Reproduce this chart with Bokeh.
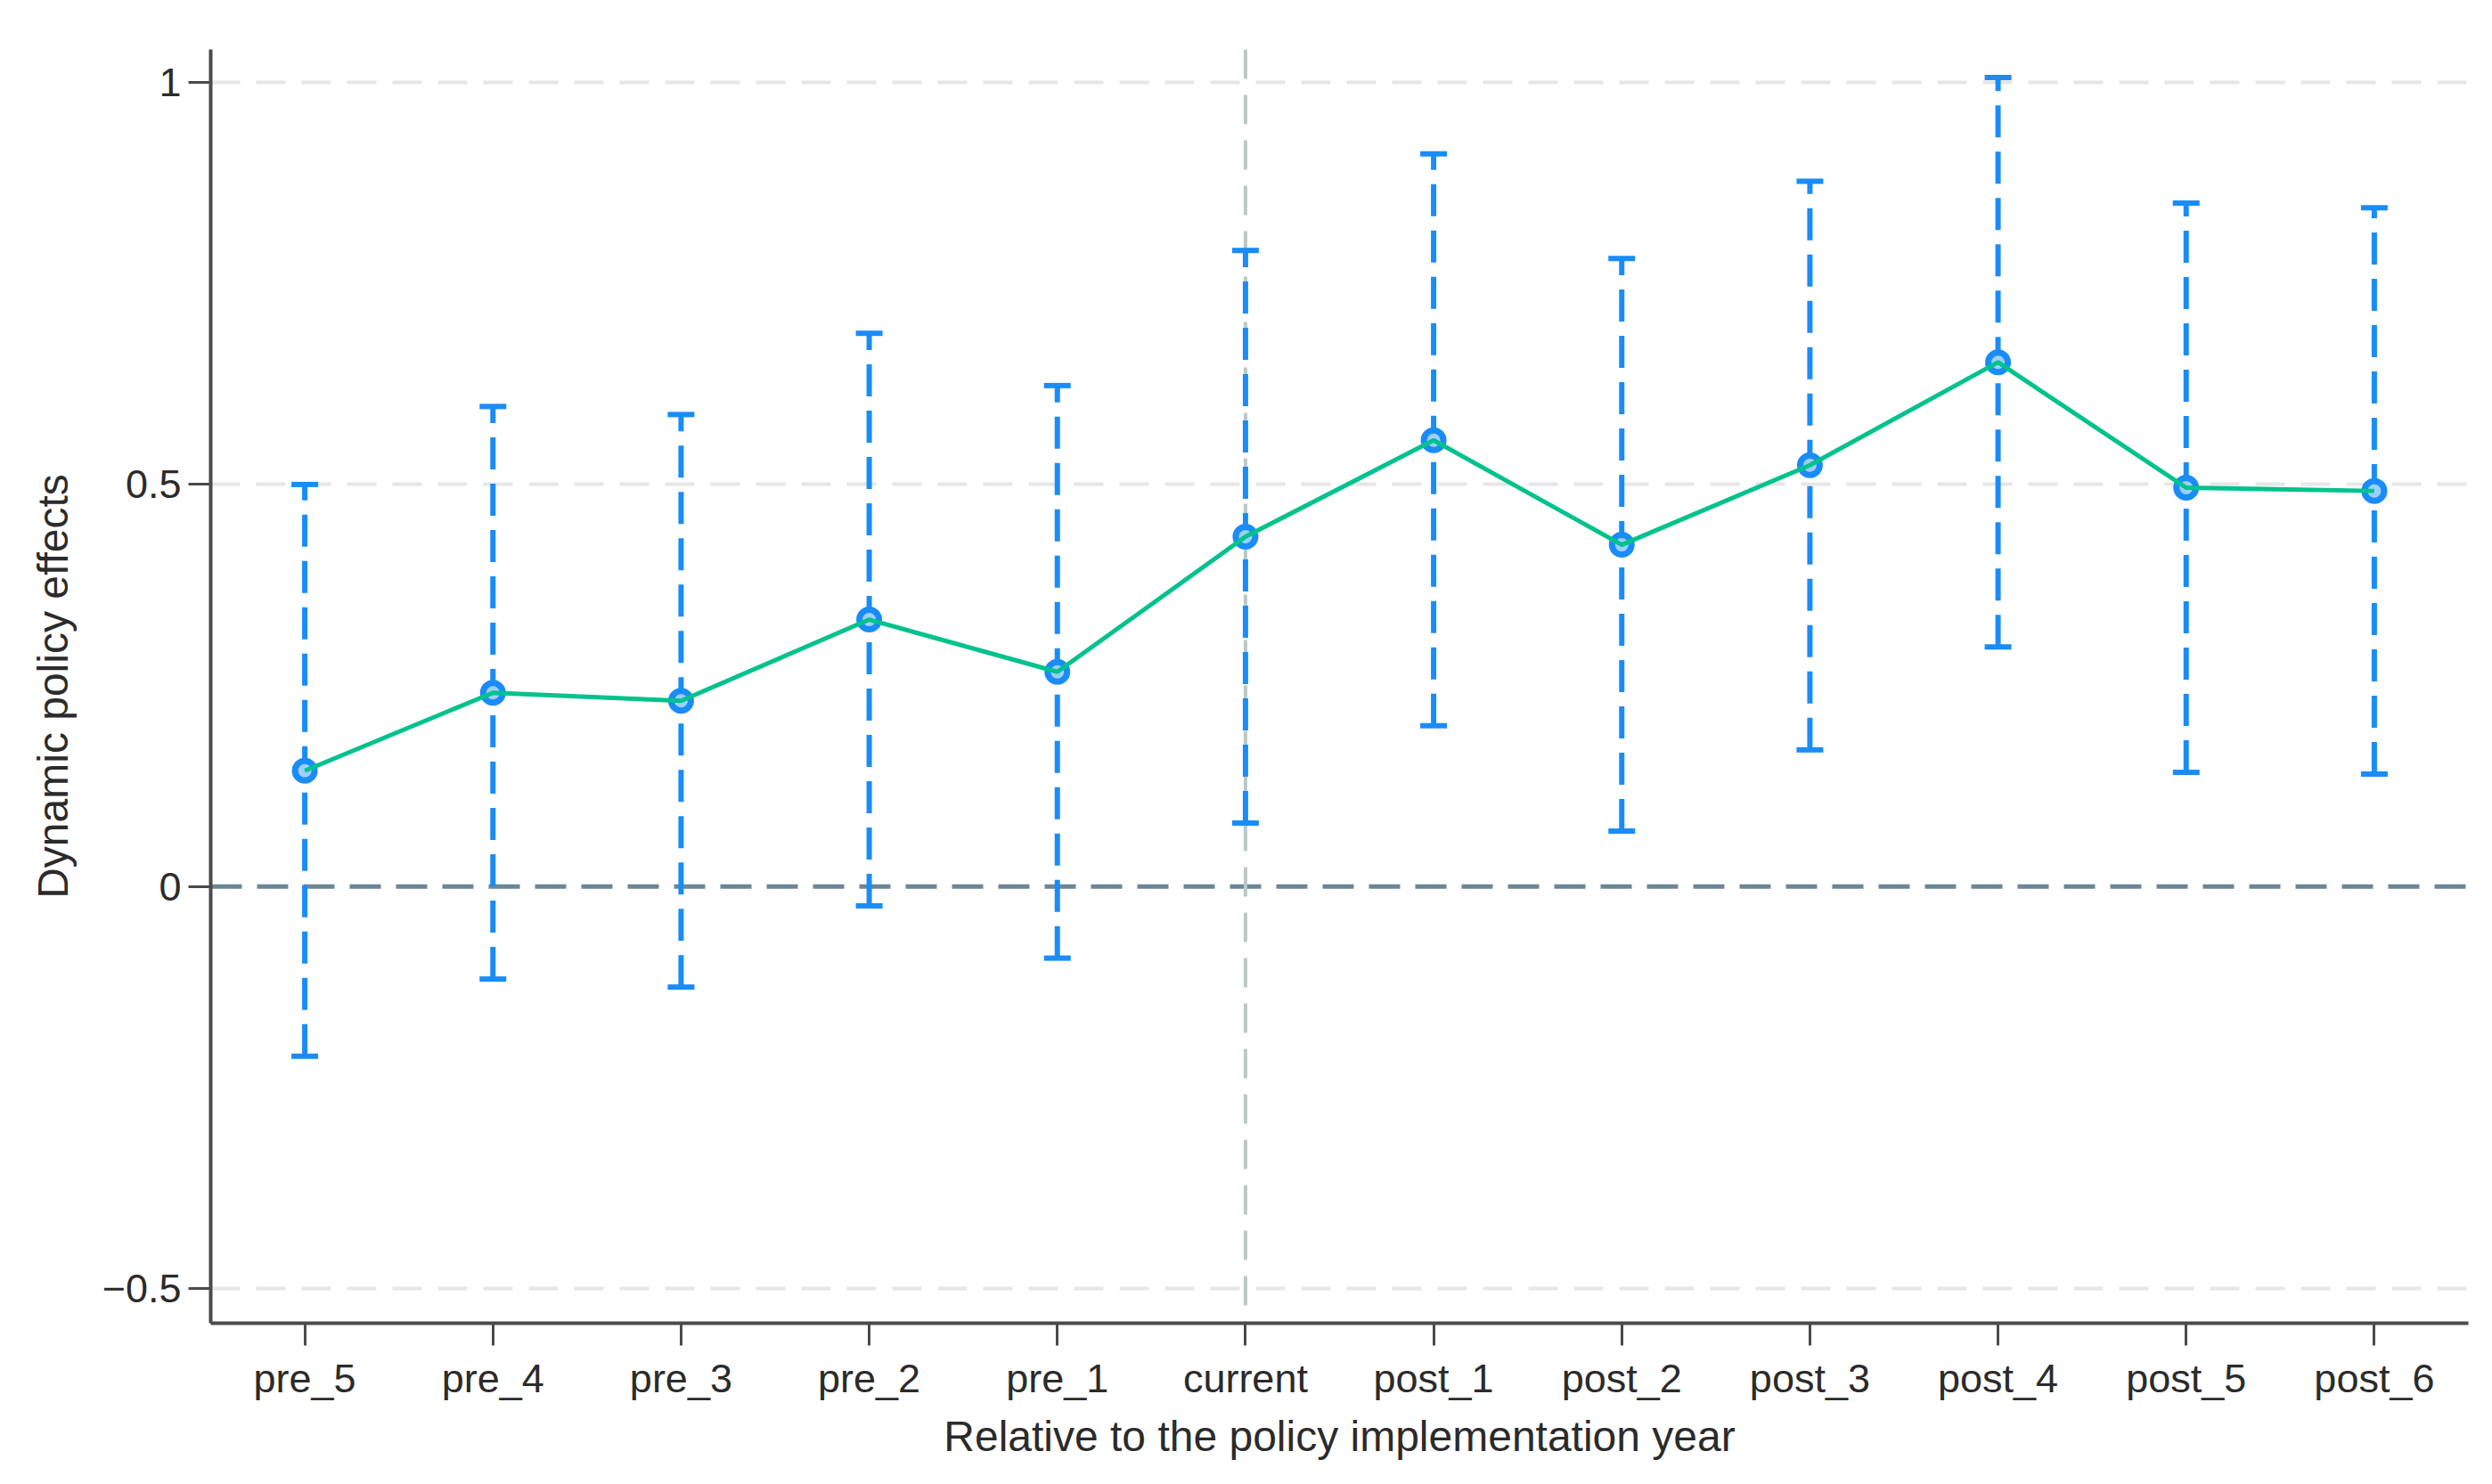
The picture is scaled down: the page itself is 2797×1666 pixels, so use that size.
from bokeh.plotting import figure
from bokeh.models import ColumnDataSource, FixedTicker, Span, Range1d, FactorRange
from bokeh.embed import file_html
from bokeh.resources import INLINE

# ---- data ----
categories = ["pre_5", "pre_4", "pre_3", "pre_2", "pre_1", "current",
              "post_1", "post_2", "post_3", "post_4", "post_5", "post_6"]
coef = [0.144, 0.241, 0.231, 0.332, 0.267, 0.435,
        0.555, 0.425, 0.524, 0.652, 0.496, 0.492]
ci_low = [-0.211, -0.115, -0.125, -0.024, -0.089, 0.079,
          0.200, 0.069, 0.170, 0.298, 0.142, 0.140]
ci_high = [0.500, 0.597, 0.587, 0.688, 0.623, 0.791,
           0.911, 0.781, 0.877, 1.006, 0.850, 0.844]
y_ticks = [-0.5, 0, 0.5, 1]
y_tick_labels = ["\u22120.5", "0", "0.5", "1"]
event_category = "current"
x_title = "Relative to the policy implementation year"
y_title = "Dynamic policy effects"

BLUE = "#1a8cf8"
GREEN = "#00c28c"
AXIS = "#4a4a4a"
TEXT = "#2b2b2b"
FONT = "Liberation Sans"

src = ColumnDataSource(dict(cat=categories, coef=coef, lo=ci_low, hi=ci_high))

p = figure(width=2781, height=1650, output_backend="svg", toolbar_location=None,
           x_range=FactorRange(*categories, range_padding=0),
           y_range=Range1d(-0.543, 1.041),
           min_border_left=236, min_border_right=11, min_border_top=55,
           min_border_bottom=165)
p.outline_line_color = None
p.background_fill_color = "white"
p.border_fill_color = "white"

# grid
p.xgrid.grid_line_color = None
p.ygrid.ticker = FixedTicker(ticks=[t for t in y_ticks if t != 0])
p.ygrid.grid_line_color = "#e6e6e6"
p.ygrid.grid_line_width = 4
p.ygrid.grid_line_dash = "33 18"

# reference lines
zero = Span(location=0, dimension="width", line_color="#6b8797", line_width=5,
            line_dash="35 17", level="underlay")
vline = Span(location=categories.index(event_category) + 0.5, dimension="height",
             line_color="#b9cac6", line_width=4, line_dash="33 18", level="underlay")
p.add_layout(zero)
p.add_layout(vline)

# confidence intervals
p.segment(x0="cat", y0="lo", x1="cat", y1="hi", source=src,
          line_color=BLUE, line_width=6, line_dash="36 16")
p.scatter(x="cat", y="hi", source=src, marker="dash", size=30,
          line_color=BLUE, line_width=6)
p.scatter(x="cat", y="lo", source=src, marker="dash", size=30,
          line_color=BLUE, line_width=6)

# point estimates
p.scatter(x="cat", y="coef", source=src, marker="circle", size=22,
          line_color=BLUE, line_width=7, fill_color="#9fcfff")
p.line(x="cat", y="coef", source=src, line_color=GREEN, line_width=5)

# axes
for ax in (p.xaxis[0], p.yaxis[0]):
    ax.axis_line_color = AXIS
    ax.axis_line_width = 4
    ax.major_tick_line_color = AXIS
    ax.major_tick_line_width = 3
    ax.major_tick_out = 25
    ax.major_tick_in = 0
    ax.minor_tick_line_color = None
    ax.major_label_text_font = FONT
    ax.major_label_text_font_size = "45px"
    ax.major_label_text_color = TEXT
    ax.axis_label_text_font = FONT
    ax.axis_label_text_font_size = "48px"
    ax.axis_label_text_font_style = "normal"
    ax.axis_label_text_color = TEXT

p.yaxis.ticker = FixedTicker(ticks=y_ticks)
p.yaxis.major_label_overrides = {t: l for t, l in zip(y_ticks, y_tick_labels)}
p.yaxis.major_label_standoff = 8
p.yaxis.axis_label = y_title
p.yaxis.axis_label_standoff = 26

p.xaxis.major_label_standoff = 11
p.xaxis.axis_label = x_title
p.xaxis.axis_label_standoff = 10

open("out.html", "w").write(file_html(p, INLINE))
